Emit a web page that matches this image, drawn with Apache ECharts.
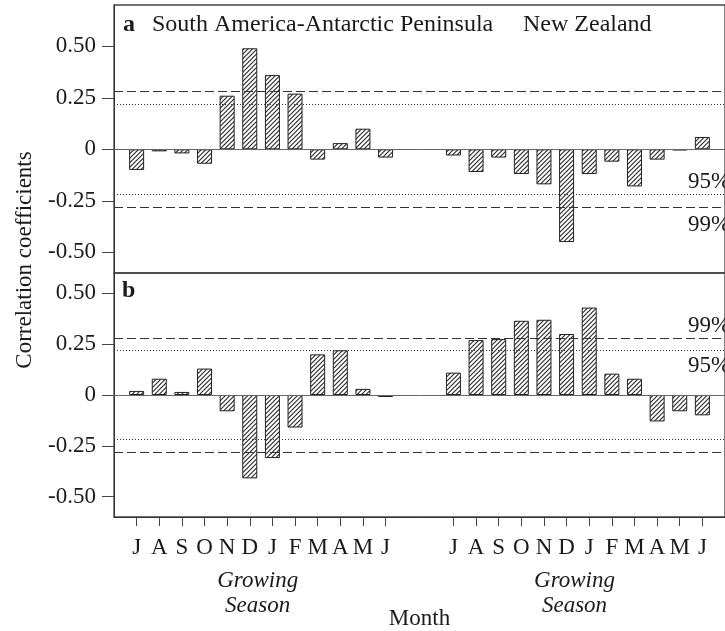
<!DOCTYPE html>
<html>
<head>
<meta charset="utf-8">
<script src="https://cdn.jsdelivr.net/npm/echarts@6/dist/echarts.min.js"></script>
<style>
  html, body { margin: 0; padding: 0; background: #fff; }
  #chart { width: 725px; height: 631px; }
</style>
</head>
<body>
<div id="chart"></div>
<script>
// Monthly correlation coefficients, July to June
const months = ['J', 'A', 'S', 'O', 'N', 'D', 'J', 'F', 'M', 'A', 'M', 'J'];
const saA = [-0.10, -0.01, -0.02, -0.07, 0.26, 0.49, 0.36, 0.27, -0.05, 0.03, 0.10, -0.04];
const nzA = [-0.03, -0.11, -0.04, -0.12, -0.17, -0.45, -0.12, -0.06, -0.18, -0.05, -0.005, 0.06];
const saB = [0.02, 0.08, 0.015, 0.13, -0.08, -0.41, -0.31, -0.16, 0.20, 0.22, 0.03, -0.01];
const nzB = [0.11, 0.27, 0.275, 0.365, 0.37, 0.30, 0.43, 0.105, 0.08, -0.13, -0.08, -0.10];
const yTicks = [-0.5, -0.25, 0, 0.25, 0.5];
const sig95 = 0.22;
const sig99 = 0.285;

// slot layout along the month axis: two runs of twelve with a gap between
const saStart = 1;
const nzStart = 15;
const slots = months.map((m, i) => saStart + i).concat(months.map((m, i) => nzStart + i));

const SERIF = '"Liberation Serif", "DejaVu Serif", serif';
const INK = '#1a1a1a';

// diagonal "////" hatching, 4.5 px apart, on a 9 px repeating tile
function makeHatch() {
  const n = 9, step = 4.5;
  const c = document.createElement('canvas');
  c.width = n; c.height = n;
  const g = c.getContext('2d');
  g.fillStyle = '#fff';
  g.fillRect(0, 0, n, n);
  g.strokeStyle = '#2a2a2a';
  g.lineWidth = 1.1;
  g.beginPath();
  for (let k = -n; k <= 3 * n; k += step) {
    g.moveTo(k + 2, -2);
    g.lineTo(-2, k + 2);
  }
  g.stroke();
  return c;
}
const hatch = { image: makeHatch(), repeat: 'repeat' };

function seriesData(sa, nz) {
  return sa.map((v, i) => [saStart + i, v]).concat(nz.map((v, i) => [nzStart + i, v]));
}

const dashed = { type: [9, 4], color: '#333', width: 1 };
const dotted = { type: [1, 2], color: '#333', width: 1.2 };

function refLines() {
  return {
    silent: true,
    symbol: 'none',
    label: { show: false },
    data: [
      { yAxis: 0, lineStyle: { type: 'solid', color: '#666', width: 1 } },
      { yAxis: sig99, lineStyle: dashed },
      { yAxis: -sig99, lineStyle: dashed },
      { yAxis: sig95, lineStyle: dotted },
      { yAxis: -sig95, lineStyle: dotted }
    ]
  };
}

function sigLabels(items) {
  return {
    silent: true,
    symbol: 'circle',
    symbolSize: 0,
    label: {
      show: true,
      position: 'right',
      distance: 0,
      fontFamily: SERIF,
      fontSize: 23,
      color: INK,
      formatter: p => p.name
    },
    data: items.map(([name, x, y]) => ({ name: name, coord: [x, y] }))
  };
}

function yAxis(idx, min, max) {
  return {
    type: 'value',
    gridIndex: idx,
    min: min,
    max: max,
    axisLine: { show: true, onZero: false, lineStyle: { color: '#333', width: 1 } },
    axisTick: { show: true, length: 12, customValues: yTicks, lineStyle: { color: '#444', width: 1 } },
    axisLabel: {
      customValues: yTicks,
      formatter: v => (v === 0 ? '0' : v.toFixed(2)),
      margin: 18,
      fontFamily: SERIF,
      fontSize: 23,
      color: INK
    },
    splitLine: { show: false }
  };
}

const chart = echarts.init(document.getElementById('chart'), null, { renderer: 'canvas' });

const labelX = 25.37;

const option = {
  animation: false,
  backgroundColor: '#fff',
  grid: [
    { left: 114, right: -13, top: 5, height: 268, show: true, borderColor: '#444', borderWidth: 1.3, backgroundColor: 'transparent' },
    { left: 114, right: -13, top: 273, height: 250, show: true, borderColor: '#444', borderWidth: 1.3, backgroundColor: 'transparent' }
  ],
  xAxis: [
    { type: 'value', gridIndex: 0, min: 0, max: 27, show: false },
    {
      type: 'value', gridIndex: 1, min: 0, max: 27,
      axisLine: { show: true, onZero: false, lineStyle: { color: '#333', width: 1 } },
      axisTick: { show: true, length: 9, customValues: slots, lineStyle: { color: '#444', width: 1 } },
      axisLabel: {
        customValues: slots,
        formatter: v => (v >= nzStart ? months[v - nzStart] : months[v - saStart]),
        margin: 19,
        fontFamily: SERIF,
        fontSize: 23,
        color: INK
      },
      splitLine: { show: false },
      name: 'Month',
      nameLocation: 'middle',
      nameGap: 90,
      nameTextStyle: { fontFamily: SERIF, fontSize: 23, color: INK }
    }
  ],
  yAxis: [yAxis(0, -0.6, 0.7), yAxis(1, -0.6, 0.6)],
  series: [
    {
      type: 'bar',
      xAxisIndex: 0, yAxisIndex: 0,
      barWidth: 15,
      itemStyle: { color: hatch, borderColor: '#222', borderWidth: 1 },
      data: seriesData(saA, nzA),
      markLine: refLines(),
      markPoint: sigLabels([['95%', labelX, -0.16], ['99%', labelX, -0.365]])
    },
    {
      type: 'bar',
      xAxisIndex: 1, yAxisIndex: 1,
      barWidth: 15,
      itemStyle: { color: hatch, borderColor: '#222', borderWidth: 1 },
      data: seriesData(saB, nzB),
      markLine: refLines(),
      markPoint: sigLabels([['99%', labelX, 0.34], ['95%', labelX, 0.145]])
    }
  ]
};
chart.setOption(option);

// panel headings, season captions and the shared y-axis title
function txt(text, x, y, opts) {
  return Object.assign({
    type: 'text',
    x: x, y: y,
    silent: true,
    style: {
      text: text,
      font: (opts && opts.font) || ('23px ' + SERIF),
      fill: INK,
      align: (opts && opts.align) || 'left',
      verticalAlign: 'middle',
      textAlign: (opts && opts.align) || 'left',
      textVerticalAlign: 'middle'
    }
  }, (opts && opts.extra) || {});
}

const seasonMid = 6.35;
const gx1 = chart.convertToPixel({ xAxisIndex: 1 }, saStart - 1 + seasonMid);
const gx2 = chart.convertToPixel({ xAxisIndex: 1 }, nzStart - 1 + seasonMid);
const italic = 'italic 23px ' + SERIF;

chart.setOption({
  graphic: [
    txt('a', 123, 25, { font: 'bold 24px ' + SERIF }),
    txt('South America-Antarctic Peninsula', 152, 25, { font: '24px ' + SERIF }),
    txt('New Zealand', 523, 25, { font: '24px ' + SERIF }),
    txt('b', 122, 291, { font: 'bold 24px ' + SERIF }),
    txt('Growing', gx1, 581, { font: italic, align: 'center' }),
    txt('Season', gx1, 606, { font: italic, align: 'center' }),
    txt('Growing', gx2, 581, { font: italic, align: 'center' }),
    txt('Season', gx2, 606, { font: italic, align: 'center' }),
    txt('Correlation coefficients', 25, 260, { font: '23px ' + SERIF, align: 'center', extra: { rotation: Math.PI / 2 } })
  ]
});
</script>
</body>
</html>
